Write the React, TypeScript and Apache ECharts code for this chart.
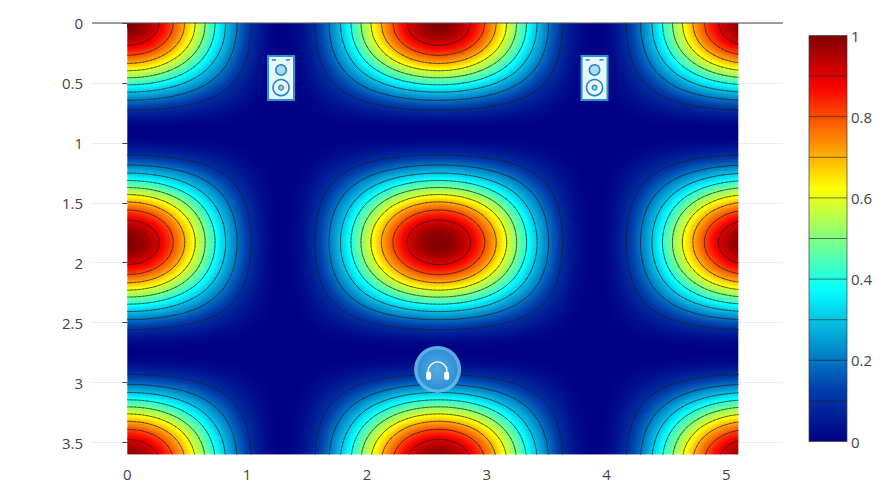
import React, { useEffect, useRef } from "react";
import * as echarts from "echarts";

// Cross-sections: value along x on a peak row, and along y on a peak column.
const xStep = 0.1;
const yStep = 0.1;
const xSection = [
  1, 0.985, 0.943, 0.874, 0.784, 0.677, 0.561, 0.439, 0.323, 0.216, 0.126, 0.057, 0.015,
  0, 0.015, 0.057, 0.126, 0.216, 0.323, 0.439, 0.561, 0.677, 0.784, 0.874, 0.943, 0.985,
  1, 0.985, 0.943, 0.874, 0.784, 0.677, 0.561, 0.439, 0.323, 0.216, 0.126, 0.057, 0.015,
  0, 0.015, 0.057, 0.126, 0.216, 0.323, 0.439, 0.561, 0.677, 0.784, 0.874, 0.943, 0.985,
];
const ySection = [
  1, 0.971, 0.887, 0.757, 0.598, 0.427, 0.265, 0.13, 0.038, 0.001, 0.021, 0.098, 0.221,
  0.377, 0.547, 0.712, 0.852, 0.951, 0.998, 0.986, 0.917, 0.8, 0.648, 0.478, 0.312, 0.167,
  0.061, 0.006, 0.009, 0.07, 0.18, 0.328, 0.496, 0.664, 0.814, 0.926, 0.989,
];
const contourLevels = [0.1, 0.2, 0.3, 0.4, 0.5, 0.6, 0.7, 0.8, 0.9];
const colorbarLevels = [0, 0.1, 0.2, 0.3, 0.4, 0.5, 0.6, 0.7, 0.8, 0.9, 1];
const xTicks = [0, 1, 2, 3, 4, 5];
const yTicks = [0, 0.5, 1, 1.5, 2, 2.5, 3, 3.5];
const speakers = [
  [1.283, 0.458],
  [3.9, 0.458],
];
const headphones = [[2.59, 2.89]];
const jetStops: [number, number[]][] = [
  [0, [0, 0, 131]],
  [0.125, [0, 60, 170]],
  [0.375, [5, 255, 255]],
  [0.625, [255, 255, 0]],
  [0.875, [250, 0, 0]],
  [1, [128, 0, 0]],
];

const table = ySection.map((v) => xSection.map((u) => u * v));
const nx = xSection.length;
const ny = ySection.length;
const xMaxData = (nx - 1) * xStep;
const yMaxData = (ny - 1) * yStep;

function cr(a: number, b: number, c: number, d: number, t: number) {
  return 0.5 * (2 * b + (c - a) * t + (2 * a - 5 * b + 4 * c - d) * t * t + (3 * b - a - 3 * c + d) * t * t * t);
}
function sample(fx: number, fy: number) {
  const ix = Math.min(Math.floor(fx), nx - 2);
  const iy = Math.min(Math.floor(fy), ny - 2);
  const tx = fx - ix;
  const ty = fy - iy;
  const row = (j: number) => {
    const r = table[Math.max(0, Math.min(ny - 1, j))];
    return cr(r[Math.max(0, ix - 1)], r[ix], r[ix + 1], r[Math.min(nx - 1, ix + 2)], tx);
  };
  const z = cr(row(iy - 1), row(iy), row(iy + 1), row(iy + 2), ty);
  return Math.max(0, Math.min(1, z));
}
function jet(z: number) {
  for (let i = 1; i < jetStops.length; i++) {
    if (z <= jetStops[i][0]) {
      const [a, ca] = jetStops[i - 1];
      const [b, cb] = jetStops[i];
      const t = (z - a) / (b - a);
      return [0, 1, 2].map((k) => ca[k] + (cb[k] - ca[k]) * t);
    }
  }
  return jetStops[jetStops.length - 1][1];
}
let fieldUrl = "";
function fieldImage() {
  if (fieldUrl) return fieldUrl;
  const w = 612;
  const h = 432;
  const canvas = document.createElement("canvas");
  canvas.width = w;
  canvas.height = h;
  const ctx = canvas.getContext("2d")!;
  const img = ctx.createImageData(w, h);
  for (let j = 0; j < h; j++) {
    for (let i = 0; i < w; i++) {
      const c = jet(sample(((i + 0.5) / w) * (nx - 1), ((j + 0.5) / h) * (ny - 1)));
      const o = (j * w + i) * 4;
      img.data[o] = c[0];
      img.data[o + 1] = c[1];
      img.data[o + 2] = c[2];
      img.data[o + 3] = 255;
    }
  }
  ctx.putImageData(img, 0, 0);
  fieldUrl = canvas.toDataURL("image/png");
  return fieldUrl;
}
function contourPath(level: number, x0: number, y0: number, x1: number, y1: number) {
  const sub = 3;
  const gx = (nx - 1) * sub;
  const gy = (ny - 1) * sub;
  const vals: number[][] = [];
  for (let j = 0; j <= gy; j++) {
    const r: number[] = [];
    for (let i = 0; i <= gx; i++) r.push(sample(i / sub, j / sub));
    vals.push(r);
  }
  const px = (i: number) => x0 + (i / gx) * (x1 - x0);
  const py = (j: number) => y0 + (j / gy) * (y1 - y0);
  let d = "";
  for (let j = 0; j < gy; j++) {
    for (let i = 0; i < gx; i++) {
      const a = vals[j][i], b = vals[j][i + 1], c = vals[j + 1][i + 1], e = vals[j + 1][i];
      const pts: string[] = [];
      const f = (p: number, q: number) => (level - p) / (q - p);
      if (a < level !== b < level) pts.push(`${px(i + f(a, b)).toFixed(2)} ${py(j).toFixed(2)}`);
      if (b < level !== c < level) pts.push(`${px(i + 1).toFixed(2)} ${py(j + f(b, c)).toFixed(2)}`);
      if (e < level !== c < level) pts.push(`${px(i + f(e, c)).toFixed(2)} ${py(j + 1).toFixed(2)}`);
      if (a < level !== e < level) pts.push(`${px(i).toFixed(2)} ${py(j + f(a, e)).toFixed(2)}`);
      if (pts.length >= 2) d += `M${pts[0]}L${pts[1]}`;
      if (pts.length === 4) d += `M${pts[2]}L${pts[3]}`;
    }
  }
  return d;
}

const INK = "#444";
const FONT = '"Open Sans"';

export default function App() {
  const ref = useRef<HTMLDivElement>(null);
  useEffect(() => {
    const chart = echarts.init(ref.current!, null, { renderer: "svg" });
    const gradient = {
      type: "linear",
      x: 0,
      y: 1,
      x2: 0,
      y2: 0,
      colorStops: jetStops.map(([offset, c]) => ({ offset, color: `rgb(${c.join(",")})` })),
    };
    const xMin = -0.2947;
    const xMax = 5.473;
    chart.setOption({
      animation: false,
      backgroundColor: "#fff",
      textStyle: { fontFamily: FONT },
      grid: [
        { left: 92, top: 23, width: 691, height: 431.5 },
        { left: 809, top: 35.5, width: 38, height: 406 },
      ],
      xAxis: [
        {
          type: "value",
          gridIndex: 0,
          min: xMin,
          max: xMax,
          axisLine: { show: false },
          splitLine: { show: false },
          axisTick: { show: true, length: 5, customValues: xTicks, lineStyle: { color: INK } },
          axisLabel: { customValues: xTicks, color: INK, fontSize: 15, fontFamily: FONT, margin: 12 },
        },
        {
          type: "value",
          gridIndex: 1,
          min: 0,
          max: 1,
          show: false,
        },
      ],
      yAxis: [
        {
          type: "value",
          gridIndex: 0,
          inverse: true,
          min: 0,
          max: 3.6,
          axisLine: { show: false },
          splitLine: { show: true, lineStyle: { color: "#eee", width: 1 } },
          axisTick: { show: true, length: 5, customValues: yTicks, lineStyle: { color: INK } },
          axisLabel: { customValues: yTicks, color: INK, fontSize: 15, fontFamily: FONT, margin: 9 },
        },
        {
          type: "value",
          gridIndex: 1,
          position: "right",
          min: 0,
          max: 1,
          interval: 0.2,
          axisLine: { show: false },
          axisTick: { show: false },
          splitLine: { show: false },
          axisLabel: { color: INK, fontSize: 15, fontFamily: FONT, margin: 4 },
        },
      ],
      series: [
        {
          type: "custom",
          name: "field",
          xAxisIndex: 0,
          yAxisIndex: 0,
          z: 3,
          silent: true,
          data: [[0, 0, xMaxData, yMaxData]],
          encode: { x: [0, 2], y: [1, 3] },
          renderItem: (_: any, api: any) => {
            const [x0, y0] = api.coord([api.value(0), api.value(1)]);
            const [x1, y1] = api.coord([api.value(2), api.value(3)]);
            return {
              type: "group",
              children: [
                { type: "image", style: { image: fieldImage(), x: x0, y: y0, width: x1 - x0, height: y1 - y0 } },
                ...contourLevels.map((lv) => ({
                  type: "path",
                  shape: { pathData: contourPath(lv, x0, y0, x1, y1) },
                  style: { fill: null, stroke: "rgba(30,30,30,0.72)", lineWidth: 0.85, lineCap: "round" },
                })),
              ],
            };
          },
        },
        {
          type: "custom",
          name: "zero line",
          xAxisIndex: 0,
          yAxisIndex: 0,
          z: 4,
          silent: true,
          data: [[xMin, 0, xMax]],
          encode: { x: [0, 2], y: 1 },
          renderItem: (_: any, api: any) => {
            const a = api.coord([api.value(0), api.value(1)]);
            const b = api.coord([api.value(2), api.value(1)]);
            return {
              type: "line",
              shape: { x1: a[0], y1: a[1], x2: b[0], y2: b[1] },
              style: { stroke: INK, lineWidth: 1 },
            };
          },
        },
        {
          type: "custom",
          name: "speakers",
          xAxisIndex: 0,
          yAxisIndex: 0,
          z: 5,
          silent: true,
          data: speakers,
          encode: { x: 0, y: 1 },
          renderItem: (_: any, api: any) => {
            const [cx, cy] = api.coord([api.value(0), api.value(1)]);
            const blue = "#1f86c8";
            return {
              type: "group",
              x: cx,
              y: cy,
              children: [
                { type: "rect", shape: { x: -13, y: -22, width: 26, height: 44 }, style: { fill: "#e6f6fb", stroke: "#2a93d3", lineWidth: 2 } },
                { type: "line", shape: { x1: -9, y1: -18, x2: -5, y2: -18 }, style: { stroke: blue, lineWidth: 1.5 } },
                { type: "line", shape: { x1: 5, y1: -18, x2: 9, y2: -18 }, style: { stroke: blue, lineWidth: 1.5 } },
                { type: "circle", shape: { cx: 0, cy: -8, r: 5.2 }, style: { fill: "#a9dcef", stroke: blue, lineWidth: 1.5 } },
                { type: "circle", shape: { cx: 0, cy: 9.7, r: 8 }, style: { fill: "#eef9fc", stroke: blue, lineWidth: 1.6 } },
                { type: "circle", shape: { cx: 0, cy: 9.7, r: 2.4 }, style: { fill: "#8fd0ea", stroke: blue, lineWidth: 1.2 } },
              ],
            };
          },
        },
        {
          type: "custom",
          name: "listener",
          xAxisIndex: 0,
          yAxisIndex: 0,
          z: 5,
          silent: true,
          data: headphones,
          encode: { x: 0, y: 1 },
          renderItem: (_: any, api: any) => {
            const [cx, cy] = api.coord([api.value(0), api.value(1)]);
            return {
              type: "group",
              x: cx,
              y: cy,
              children: [
                { type: "circle", shape: { cx: 0, cy: 0, r: 23.5 }, style: { fill: "rgba(105,185,235,0.92)" } },
                {
                  type: "circle",
                  shape: { cx: 0, cy: 0, r: 20 },
                  style: {
                    fill: {
                      type: "radial",
                      x: 0.5,
                      y: 0.5,
                      r: 0.5,
                      colorStops: [
                        { offset: 0, color: "#58ade3" },
                        { offset: 1, color: "#2f8fd4" },
                      ],
                    },
                  },
                },
                {
                  type: "arc",
                  shape: { cx: 0, cy: 2, r: 9.5, startAngle: Math.PI, endAngle: Math.PI * 2, clockwise: true },
                  style: { fill: null, stroke: "#fff", lineWidth: 1.3 },
                },
                { type: "rect", shape: { x: -11.5, y: 2, width: 5, height: 8.5, r: 2.2 }, style: { fill: "#fff" } },
                { type: "rect", shape: { x: 6.5, y: 2, width: 5, height: 8.5, r: 2.2 }, style: { fill: "#fff" } },
              ],
            };
          },
        },
        {
          type: "custom",
          name: "colorbar",
          xAxisIndex: 1,
          yAxisIndex: 1,
          z: 3,
          silent: true,
          data: [[0, 0, 1, 1]],
          encode: { x: [0, 2], y: [1, 3] },
          renderItem: (_: any, api: any) => {
            const a = api.coord([api.value(0), api.value(3)]);
            const b = api.coord([api.value(2), api.value(1)]);
            return {
              type: "rect",
              shape: { x: a[0], y: a[1], width: b[0] - a[0], height: b[1] - a[1] },
              style: { fill: gradient, stroke: "rgba(68,68,68,0.75)", lineWidth: 1 },
            };
          },
        },
        {
          type: "custom",
          name: "colorbar levels",
          xAxisIndex: 1,
          yAxisIndex: 1,
          z: 4,
          silent: true,
          data: colorbarLevels.slice(1, -1).map((v) => [0, v, 1]),
          encode: { x: [0, 2], y: 1 },
          renderItem: (_: any, api: any) => {
            const a = api.coord([api.value(0), api.value(1)]);
            const b = api.coord([api.value(2), api.value(1)]);
            return {
              type: "line",
              shape: { x1: a[0], y1: a[1], x2: b[0], y2: b[1] },
              style: { stroke: "rgba(30,30,30,0.7)", lineWidth: 0.85 },
            };
          },
        },
      ],
    });
    return () => chart.dispose();
  }, []);
  return <div ref={ref} style={{ position: "absolute", left: 0, top: 0, width: 884, height: 496 }} />;
}
